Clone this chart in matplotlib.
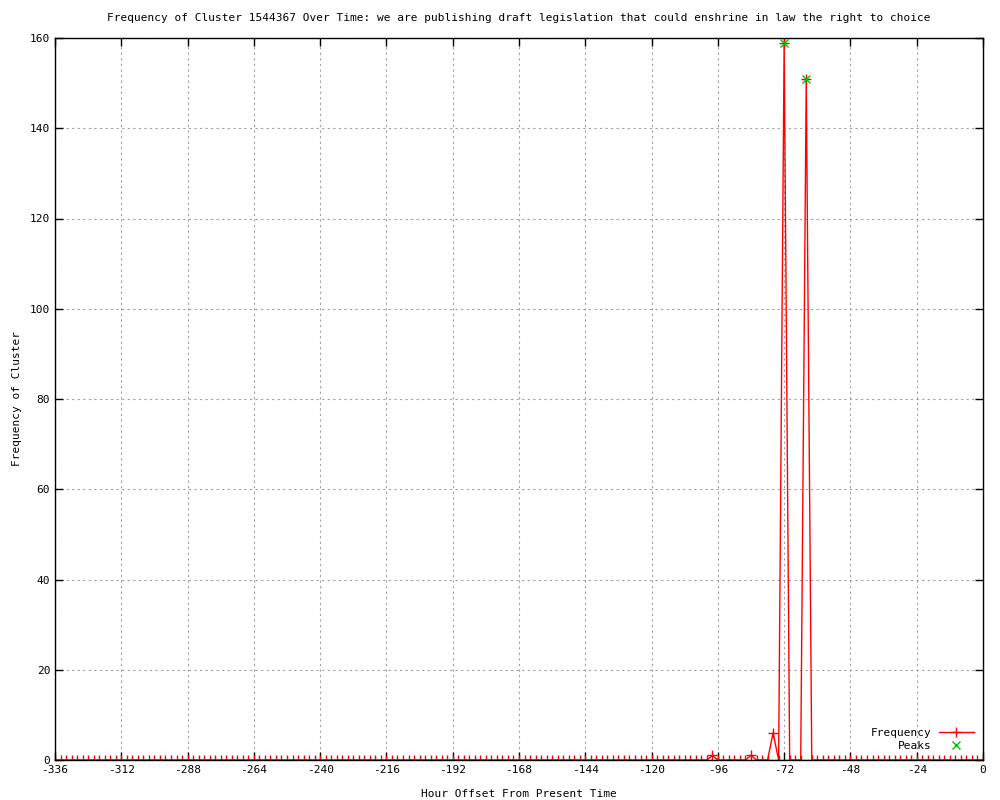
import numpy as np
import matplotlib
matplotlib.use("Agg")
import matplotlib.pyplot as plt

# Data: hourly offsets sampled every 2 hours, mostly zero
hours = list(range(-336, 1, 2))
spikes = {-98: 1, -84: 1, -76: 6, -72: 159, -64: 151}
freq = [spikes.get(h, 0) for h in hours]

peak_hours = [-72, -64]
peak_vals = [159, 151]

plt.rcParams['font.family'] = ['DejaVu Sans Mono']
plt.rcParams['font.size'] = 8
plt.rcParams['axes.unicode_minus'] = False

fig = plt.figure(figsize=(10, 8), dpi=100)
ax = fig.add_axes([0.055, 0.05, 0.928, 0.9025])

ax.plot(hours, freq, color='red', linewidth=1, marker='+', markersize=7,
        markeredgewidth=1, label='Frequency')
ax.plot(peak_hours, peak_vals, color='#00c000', linestyle='none', marker='x',
        markersize=6, markeredgewidth=1, label='Peaks')

ax.set_xlim(-336, 0)
ax.set_ylim(0, 160)
ax.set_xticks(range(-336, 1, 24))
ax.set_yticks(range(0, 161, 20))
ax.tick_params(direction='in', length=6, width=1, top=True, right=True,
               labelsize=8, colors='black')
ax.grid(True, color='#a0a0a0', linestyle=(0, (2, 3)), linewidth=0.8)
for spine in ax.spines.values():
    spine.set_linewidth(1)
    spine.set_edgecolor('black')

ax.set_title("Frequency of Cluster 1544367 Over Time: we are publishing draft legislation that could enshrine in law the right to choice",
             fontsize=8, pad=12)
ax.set_xlabel("Hour Offset From Present Time", fontsize=8, labelpad=10)
ax.set_ylabel("Frequency of Cluster", fontsize=8, labelpad=6)

ax.legend(loc='lower right', frameon=False, markerfirst=False, fontsize=8,
          handlelength=3.2, borderaxespad=0.4, borderpad=0.4,
          labelspacing=0.3, handletextpad=0.6)

plt.savefig('out.png', dpi=100)
